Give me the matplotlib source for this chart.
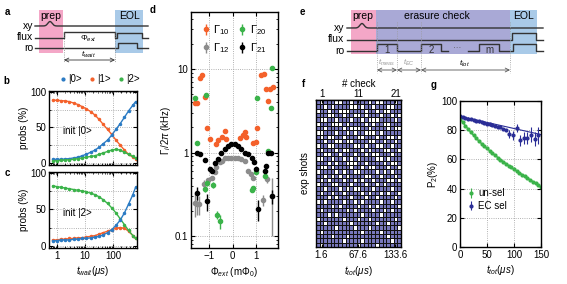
import matplotlib.pyplot as plt
import numpy as np
from matplotlib.colors import ListedColormap
from matplotlib.patches import Rectangle

plt.rcParams['font.family'] = ['Liberation Sans', 'DejaVu Sans']
plt.rcParams['mathtext.fontset'] = 'custom'
plt.rcParams['mathtext.rm'] = 'Liberation Sans'
plt.rcParams['mathtext.it'] = 'Liberation Sans:italic'
plt.rcParams['font.size'] = 7
plt.rcParams['axes.linewidth'] = 1.0
plt.rcParams['xtick.direction'] = 'in'
plt.rcParams['ytick.direction'] = 'in'
plt.rcParams['xtick.top'] = True
plt.rcParams['ytick.right'] = True
plt.rcParams['xtick.major.size'] = 3
plt.rcParams['ytick.major.size'] = 3
plt.rcParams['xtick.minor.size'] = 1.5
plt.rcParams['ytick.minor.size'] = 1.5
plt.rcParams['xtick.major.pad'] = 2
plt.rcParams['ytick.major.pad'] = 2

# ---- data ----
t_wait = [0.7, 1.0, 1.4, 2.0, 2.8, 4.0, 5.6, 8, 11, 16, 23, 32, 45, 64, 90, 128, 180, 256, 360, 512, 640]
b_p0 = [5, 5, 5, 5.5, 6, 7, 8, 10, 12, 15, 18, 22, 27, 32, 39, 47, 55, 64, 73, 81, 86]
b_p1 = [88, 88, 87.5, 87, 86, 84, 82, 79, 76, 72, 67, 61, 54, 47, 40, 32, 25, 18, 12, 8, 6]
b_p2 = [3, 3, 3.5, 4, 4.5, 5, 6, 7, 8, 9, 10, 12, 14, 16, 18, 19, 18, 15, 12, 9, 7]
c_p0 = [7, 7, 8, 8, 8, 9, 9, 10, 10, 11, 12, 13, 15, 18, 22, 28, 35, 45, 57, 70, 80]
c_p1 = [8, 8, 9, 9, 10, 10, 11, 11, 12, 13, 14, 16, 18, 20, 22, 24, 25, 24, 20, 14, 10]
c_p2 = [82, 81, 80, 79, 78, 77, 76, 75, 74, 72, 70, 67, 63, 58, 52, 45, 37, 29, 21, 14, 10]

g10_x = [-1.62, -1.53, -1.40, -1.31, -1.19, -1.08, -0.98, -0.69, -0.62, -0.45, -0.34, -0.27,
         0.30, 0.45, 0.51, 0.58, 0.87, 1.00, 1.05, 1.22, 1.31, 1.39, 1.50, 1.59, 1.69]
g10_y = [3.9, 3.9, 7.7, 8.4, 4.6, 1.95, 1.45, 1.25, 1.4, 1.55, 1.8, 1.45,
         1.5, 1.6, 1.75, 1.55, 1.3, 1.35, 1.95, 8.4, 8.8, 5.8, 4.1, 5.7, 6.0]
g20_x = [-1.62, -1.52, -1.16, -1.08, -1.12, -0.84, -0.67, -0.55, 0.80, 0.87, 0.97, 1.05, 1.36, 1.48, 1.62, 1.67]
g20_y = [4.5, 1.31, 0.37, 0.43, 4.9, 0.41, 0.18, 0.15, 0.36, 0.38, 0.58, 4.5, 0.52, 1.04, 3.4, 10.3]
g20_e = [0.2, 0.05, 0.03, 0.03, 0.2, 0.03, 0.02, 0.03, 0.02, 0.02, 0.03, 0.2, 0.03, 0.05, 0.2, 0.4]
g12_x = [-1.62, -1.52, -1.42, -1.20, -1.05, -0.90, -0.76, -0.69, -0.55, -0.45, -0.34, -0.20,
         -0.06, 0.09, 0.23, 0.37, 0.51, 0.65, 0.76, 0.87, 1.29, 1.45, 1.66]
g12_y = [0.25, 0.24, 0.24, 0.42, 0.47, 0.50, 0.58, 0.68, 0.76, 0.80, 0.85, 0.86,
         0.85, 0.86, 0.85, 0.83, 0.80, 0.60, 0.55, 0.50, 0.27, 0.48, 0.30]
g12_e = [0.08, 0.06, 0.06, 0.05, 0.03, 0.02, 0.02, 0.02, 0.02, 0.02, 0.02, 0.02,
         0.02, 0.02, 0.02, 0.02, 0.02, 0.02, 0.02, 0.03, 0.04, 0.05, 0.2]
g21_x = [-1.52, -1.52, -1.38, -1.19, -1.08, -0.98, -0.88, -0.77, -0.62, -0.48, -0.34, -0.20, -0.06,
         0.09, 0.23, 0.37, 0.51, 0.65, 0.80, 0.91, 1.00, 1.08, 1.36, 1.43, 1.50, 1.62, 1.67]
g21_y = [1.0, 0.33, 0.95, 0.82, 0.26, 0.64, 0.60, 0.75, 0.84, 1.0, 1.1, 1.21, 1.27,
         1.25, 1.19, 1.09, 1.0, 0.95, 0.86, 0.76, 0.63, 0.21, 0.60, 0.69, 1.0, 1.0, 0.30]
g21_e = [0.03, 0.06, 0.03, 0.03, 0.06, 0.02, 0.02, 0.02, 0.02, 0.02, 0.02, 0.02, 0.02,
         0.02, 0.02, 0.02, 0.02, 0.02, 0.02, 0.02, 0.02, 0.06, 0.03, 0.03, 0.03, 0.03, 0.06]

shots = [
    "10111001101111010011101", "11010111100101101110011", "01101100011110110100111",
    "11100110110010111011010", "10011011101101000111101", "01110001011110101100111",
    "11011110100011011110100", "00111011010110001011111", "10100110111001110110010",
    "11011001001111001101101", "01100111110010110011011", "10111010011101011100110",
    "11001101110110100111011", "00110110101011110010111", "11101011000110111101001",
    "10010111101101001110110", "01111010110011110101011", "11010101011110011011101",
    "10101110110101101110010", "01110011101110110101111", "11011101010011101111011",
    "10110110111101011010110", "11101011101110110111101", "01011110110101111011011",
    "11110101111011010111110", "10111111010111101101011", "11101011111101111011111",
    "01111110111011011111101", "11011111101111110110111", "11111011110111011111110",
    "10111111111101111011111", "11110111011111111110111", "11111110111101111111011",
    "10111111111011110111111",
]
check_ticks = [1, 11, 21]
ttot_labels = ['1.6', '67.6', '133.6']

unsel_x = [0, 5, 10, 15, 20, 25, 30, 35, 40, 45, 50, 55, 60, 65, 70, 75, 80, 85, 90, 95,
           100, 105, 110, 115, 120, 125, 130, 135, 140, 145, 150]
unsel_y = [88, 85.5, 83, 80.8, 78.6, 76.5, 74.5, 72.6, 70.8, 69, 67.5, 65.9, 64.3, 62.8, 61.3, 59.9,
           58.5, 57.1, 55.8, 54.5, 53.2, 52, 50.8, 49.6, 48.4, 47.2, 46, 44.8, 43.6, 42.3, 41]
ec_x = [0, 5, 10, 15, 20, 25, 30, 35, 40, 45, 50, 55, 60, 65, 70, 75, 80, 85,
        90, 98, 105, 112, 118, 124, 132, 139, 145]
ec_y = [89.5, 89, 88.5, 88, 87.5, 87, 86.5, 86, 85.5, 85, 84.5, 84, 83.5, 83, 82.5, 82, 81, 80,
        77.5, 76.5, 81.5, 73, 74.5, 74.5, 77, 74, 76.5]
ec_e = [0.8] * 18 + [2.5, 3, 3, 3.5, 4, 4, 5, 5, 6]
ec_fit_x = [0, 150]
ec_fit_y = [89.5, 77]

orange = '#f4612b'
blue = '#2b7bc4'
green = '#3bb34a'
navy = '#2a2d96'
gray = '#8c8c8c'

W, H = 567, 284


def box(l, t, r, b):
    return [l / W, 1 - b / H, (r - l) / W, (b - t) / H]


fig = plt.figure(figsize=(W / 100, H / 100), dpi=100)

# overlay in pixel coordinates for the schematics and panel letters
ov = fig.add_axes([0, 0, 1, 1])
ov.set_xlim(0, W)
ov.set_ylim(H, 0)
ov.axis('off')

for lab, (px, py) in {'a': (7, 12), 'b': (6, 81), 'c': (7, 173), 'd': (153, 10),
                      'e': (302, 12), 'f': (304, 84), 'g': (434, 85)}.items():
    ov.text(px, py, lab, fontsize=7, fontweight='bold', ha='center', va='center')

# panel a schematic
ov.add_patch(Rectangle((39, 10), 24, 43, color='#f4a7c7', lw=0))
ov.add_patch(Rectangle((115, 10), 28, 43, color='#a9cae8', lw=0))
ov.text(51, 16, 'prep', ha='center', va='center', fontsize=7.5)
ov.text(129, 16, 'EOL', ha='center', va='center', fontsize=7.5)
xs = np.linspace(35, 148, 300)
ov.plot(xs, 26 - 4.5 * np.exp(-((xs - 50) / 3) ** 2), color='#333333', lw=1)
ov.plot([35, 64, 64, 115, 115, 117, 117, 142, 142, 148], [38, 38, 32, 32, 38, 38, 33, 33, 38, 38],
        color='#333333', lw=1)
ov.plot([35, 118, 118, 137, 137, 148], [48, 48, 43, 43, 48, 48], color='#333333', lw=1)
for vx in (64, 115):
    ov.plot([vx, vx], [32, 62], color='#888888', lw=0.6, ls=':')
ov.annotate('', xy=(64, 60), xytext=(115, 60), arrowprops=dict(arrowstyle='<->', lw=0.6, color='#333333',
                                                               shrinkA=0, shrinkB=0))
ov.text(88, 38.5, r'$\mathit{\Phi}_{ext}$', ha='center', va='center', fontsize=6)
ov.text(88, 55, r'$t_{wait}$', ha='center', va='center', fontsize=6)
for txt, yy in (('xy', 26), ('flux', 37), ('ro', 48)):
    ov.text(33, yy, txt, ha='right', va='center', fontsize=7.5)

# panel e schematic
ov.add_patch(Rectangle((351, 10), 25, 44, color='#f4a7c7', lw=0))
ov.add_patch(Rectangle((376, 10), 134, 44, color='#a9a9d6', lw=0))
ov.add_patch(Rectangle((510, 10), 27, 44, color='#a9cae8', lw=0))
ov.text(363, 16, 'prep', ha='center', va='center', fontsize=7.5)
ov.text(437, 16, 'erasure check', ha='center', va='center', fontsize=7.5)
ov.text(523, 16, 'EOL', ha='center', va='center', fontsize=7.5)
xs = np.linspace(347, 543, 400)
ov.plot(xs, 28 - 4.5 * np.exp(-((xs - 362) / 3) ** 2), color='#333333', lw=1)
ov.plot([347, 512, 512, 536, 536, 543], [40, 40, 33, 33, 40, 40], color='#333333', lw=1)
ov.plot([347, 377, 377, 397, 397, 421, 421, 441, 441, 448], [51, 51, 44, 44, 51, 51, 44, 44, 51, 51],
        color='#333333', lw=1)
ov.text(457, 49, '···', ha='center', va='center', fontsize=6, color='#555555')
ov.plot([468, 479, 479, 499, 499, 513, 513, 536, 536, 543], [51, 51, 44, 44, 51, 51, 44, 44, 51, 51],
        color='#333333', lw=1)
for txt, xx in (('1', 387), ('2', 431), ('m', 489)):
    ov.text(xx, 50, txt, ha='center', va='center', fontsize=7, color='#333333')
for vx in (377, 397, 421, 510):
    ov.plot([vx, vx], [22, 73], color='#999999', lw=0.6, ls=':')
for x0, x1 in ((377, 397), (397, 421), (421, 510)):
    ov.annotate('', xy=(x0, 70), xytext=(x1, 70), arrowprops=dict(arrowstyle='<->', lw=0.6,
                                                                  color='#555555', shrinkA=0, shrinkB=0))
ov.text(387, 63, r'$t_{meas}$', ha='center', va='center', fontsize=5.5, color='#999999')
ov.text(409, 63, r'$t_{EC}$', ha='center', va='center', fontsize=5.5, color='#999999')
ov.text(465, 64, r'$t_{tot}$', ha='center', va='center', fontsize=6)
for txt, yy in (('xy', 28), ('flux', 39), ('ro', 51)):
    ov.text(344, yy, txt, ha='right', va='center', fontsize=7.5)

# panels b and c
def pop_axes(rect, series, init_label):
    ax = fig.add_axes(rect)
    for ys, col in series:
        ax.plot(t_wait, ys, '.-', color=col, ms=3, lw=1)
    ax.set_xscale('log')
    ax.set_xlim(0.52, 720)
    ax.set_ylim(-3, 101)
    ax.set_yticks([0, 50, 100])
    ax.set_yticks([25, 75], minor=True)
    ax.grid(True, which='major', axis='x', ls=':', color='#999999', lw=0.6)
    ax.grid(True, which='both', axis='y', ls=':', color='#999999', lw=0.6)
    ax.tick_params(which='both', top=True, right=True)
    ax.set_ylabel('probs (%)', labelpad=1)
    ax.text(1.6, 45, init_label, fontsize=7, va='center')
    return ax


ax_b = pop_axes(box(49, 91, 137, 165), [(b_p1, orange), (b_p0, blue), (b_p2, green)], 'init |0>')
ax_b.set_xticklabels([])
ax_c = pop_axes(box(49, 172, 137, 248), [(c_p1, orange), (c_p2, green), (c_p0, blue)], 'init |2>')
ax_c.set_xticks([1, 10, 100])
ax_c.set_xticklabels(['1', '10', '100'])
ax_c.set_xlabel(r'$t_{wait}$($\mu s$)', labelpad=2)

hs = [plt.Line2D([], [], marker='o', ls='', ms=2, color=c) for c in (blue, orange, green)]
fig.legend(hs, ['|0>', '|1>', '|2>'], loc='center', bbox_to_anchor=(100 / W, 1 - 79 / H), ncol=3,
           frameon=False, handlelength=0.6, handletextpad=0.2, columnspacing=0.8, fontsize=7)

# panel d
ax_d = fig.add_axes(box(191, 12, 278, 248))
kw = dict(fmt='o', ms=3, elinewidth=1, capsize=0)
h10 = ax_d.errorbar(g10_x, g10_y, yerr=0.05 * np.array(g10_y), color=orange, label=r'$\mathit{\Gamma}_{10}$', **kw)
h12 = ax_d.errorbar(g12_x, g12_y, yerr=g12_e, color=gray, label=r'$\mathit{\Gamma}_{12}$', **kw)
h20 = ax_d.errorbar(g20_x, g20_y, yerr=g20_e, color=green, label=r'$\mathit{\Gamma}_{20}$', **kw)
h21 = ax_d.errorbar(g21_x, g21_y, yerr=g21_e, color='black', label=r'$\mathit{\Gamma}_{21}$', **kw)
ax_d.set_yscale('log')
ax_d.set_ylim(0.072, 48)
ax_d.set_xlim(-1.77, 1.92)
ax_d.set_yticks([0.1, 1, 10])
ax_d.set_yticklabels(['0.1', '1', '10'])
ax_d.set_xticks([-1, 0, 1])
ax_d.grid(True, which='major', ls=':', color='#999999', lw=0.6)
ax_d.tick_params(which='both', top=True, right=True)
ax_d.set_ylabel(r'$\mathit{\Gamma}_i$/2$\pi$ (kHz)', labelpad=1)
ax_d.set_xlabel(r'$\mathit{\Phi}_{ext}$ (m$\mathit{\Phi}_0$)', labelpad=3)
ax_d.legend(handles=[h10, h12, h20, h21], loc='upper center', ncol=2, frameon=False, fontsize=8,
            handlelength=0.6, handletextpad=0.4, columnspacing=0.8, borderaxespad=0.6,
            labelspacing=0.4)

# panel f
grid = np.array([[int(ch) for ch in row] for row in shots])
nrow, ncol = grid.shape
ax_f = fig.add_axes(box(316, 100, 401, 247))
ax_f.pcolormesh(np.arange(ncol + 1) - 0.5, np.arange(nrow + 1), grid,
                cmap=ListedColormap(['white', '#7777bb']), edgecolors='#111111', linewidth=0.5)
ax_f.set_xlim(-0.5, ncol - 0.5)
ax_f.set_ylim(nrow, 0)
ax_f.set_yticks([])
ax_f.set_xticks(check_ticks)
ax_f.set_xticklabels(ttot_labels)
ax_f.tick_params(axis='x', top=True, length=2)
top = ax_f.secondary_xaxis('top')
top.set_xticks(check_ticks)
top.set_xticklabels([str(c) for c in check_ticks])
top.tick_params(length=0, pad=1)
top.set_xlabel('# check', labelpad=1)
ax_f.set_ylabel('exp shots', labelpad=4)
ax_f.set_xlabel(r'$t_{tot}$($\mu s$)', labelpad=3)

# panel g
ax_g = fig.add_axes(box(460, 101, 541, 247))
ax_g.plot(unsel_x, unsel_y, '-', color=green, lw=1)
hg = ax_g.errorbar(unsel_x, unsel_y, yerr=0.6, fmt='o', ms=2, color=green, elinewidth=0.8, label='un-sel')
ax_g.plot(ec_fit_x, ec_fit_y, '-', color=navy, lw=0.8)
he = ax_g.errorbar(ec_x, ec_y, yerr=ec_e, fmt='o', ms=2, color=navy, elinewidth=0.8, label='EC sel')
ax_g.set_xlim(0, 150)
ax_g.set_ylim(0, 100)
ax_g.set_xticks([0, 50, 100, 150])
ax_g.set_yticks([0, 20, 40, 60, 80, 100])
ax_g.grid(True, ls=':', color='#999999', lw=0.6)
ax_g.tick_params(which='both', top=True, right=True)
ax_g.set_ylabel(r'P$_2$(%)', labelpad=1)
ax_g.set_xlabel(r'$t_{tot}$($\mu s$)', labelpad=2)
ax_g.legend(handles=[hg, he], loc='lower left', bbox_to_anchor=(0.0, 0.2), frameon=False, fontsize=7,
            handlelength=0.8, handletextpad=0.4, labelspacing=0.3, borderaxespad=0.3)

fig.savefig('out.png', dpi=100)
